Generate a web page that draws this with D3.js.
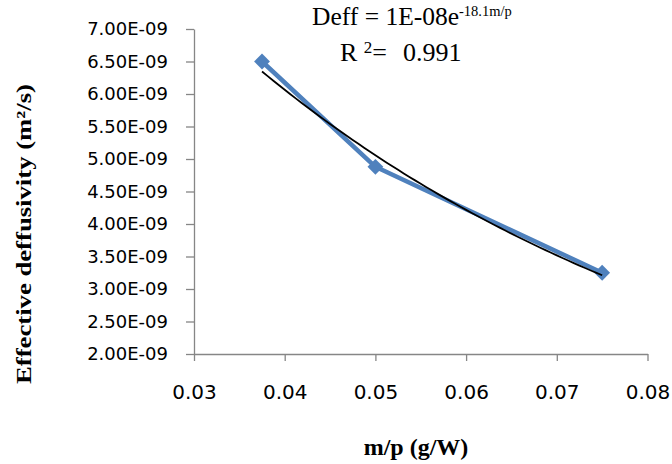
<!DOCTYPE html>
<html>
<head>
<meta charset="utf-8">
<script src="https://cdn.jsdelivr.net/npm/d3@7"></script>
<style>
  html, body { margin: 0; padding: 0; background: #ffffff; }
  svg { display: block; }
</style>
</head>
<body>
<svg id="chart" width="672" height="464"></svg>
<script>
// Microwave power ratio (m/p) vs. effective diffusivity
const massPower = [0.0375, 0.05, 0.075];
const deffValues = [6.50e-9, 4.88e-9, 3.25e-9];

const xTickValues = [0.03, 0.04, 0.05, 0.06, 0.07, 0.08];
const xTickLabels = ["0.03", "0.04", "0.05", "0.06", "0.07", "0.08"];
const yTickValues = [2.0e-9, 2.5e-9, 3.0e-9, 3.5e-9, 4.0e-9, 4.5e-9, 5.0e-9, 5.5e-9, 6.0e-9, 6.5e-9, 7.0e-9];
const yTickLabels = ["2.00E-09", "2.50E-09", "3.00E-09", "3.50E-09", "4.00E-09", "4.50E-09",
                     "5.00E-09", "5.50E-09", "6.00E-09", "6.50E-09", "7.00E-09"];

const svg = d3.select("#chart");

const x = d3.scaleLinear().domain([0.03, 0.08]).range([194, 647.5]);
const y = d3.scaleLinear().domain([2.0e-9, 7.0e-9]).range([354, 29]);

const axisColor = "#868686";
const tickFont = "'DejaVu Sans', Verdana, sans-serif";
const serif = "'Liberation Serif', 'Times New Roman', serif";

// Y axis
const yAxis = svg.append("g")
  .attr("transform", `translate(${x.range()[0]},0)`)
  .call(d3.axisLeft(y)
    .tickValues(yTickValues)
    .tickFormat((d, i) => yTickLabels[i])
    .tickSizeInner(8).tickSizeOuter(0).tickPadding(18));

// X axis
const xAxis = svg.append("g")
  .attr("transform", `translate(0,${y.range()[0]})`)
  .call(d3.axisBottom(x)
    .tickValues(xTickValues)
    .tickFormat((d, i) => xTickLabels[i])
    .tickSizeInner(7).tickSizeOuter(0).tickPadding(24));

[yAxis, xAxis].forEach(g => {
  g.select(".domain").attr("stroke", axisColor).attr("stroke-width", 1.3);
  g.selectAll(".tick line").attr("stroke", axisColor).attr("stroke-width", 1.3);
  g.selectAll(".tick text")
    .attr("fill", "#000")
    .style("font-family", tickFont);
});
yAxis.selectAll(".tick text").style("font-size", "18px");
xAxis.selectAll(".tick text").style("font-size", "20px");

// Data series
const line = d3.line().x((d, i) => x(massPower[i])).y(d => y(d));
svg.append("path")
  .datum(deffValues)
  .attr("fill", "none")
  .attr("stroke", "#4F81BD")
  .attr("stroke-width", 4.5)
  .attr("stroke-linejoin", "round")
  .attr("d", line);

svg.append("g").selectAll("path")
  .data(deffValues)
  .join("path")
  .attr("d", d3.symbol(d3.symbolSquare, 125))
  .attr("transform", (d, i) => `translate(${x(massPower[i])},${y(d)}) rotate(45)`)
  .attr("fill", "#4F81BD");

// Exponential trendline: least squares on ln(Deff)
const lnY = deffValues.map(v => Math.log(v));
const mx = d3.mean(massPower), my = d3.mean(lnY);
const b = d3.sum(massPower, (v, i) => (v - mx) * (lnY[i] - my)) /
          d3.sum(massPower, v => (v - mx) * (v - mx));
const a = Math.exp(my - b * mx);
const xs = d3.range(0, 61).map(k => massPower[0] + (massPower[2] - massPower[0]) * k / 60);
svg.append("path")
  .datum(xs)
  .attr("fill", "none")
  .attr("stroke", "#000")
  .attr("stroke-width", 1.8)
  .attr("d", d3.line().x(d => x(d)).y(d => y(a * Math.exp(b * d))));

// Trendline equation
const eq = svg.append("text")
  .attr("x", 312).attr("y", 25)
  .style("font-family", serif).style("font-size", "25.5px").attr("fill", "#000");
eq.append("tspan").text("Deff = 1E-08e");
eq.append("tspan").attr("dy", -9).style("font-size", "14.5px").text("-18.1m/p");

const r2 = svg.append("text")
  .attr("y", 61)
  .style("font-family", serif).style("font-size", "26px").attr("fill", "#000");
r2.append("tspan").attr("x", 340).text("R ");
r2.append("tspan").attr("dy", -8).style("font-size", "17px").text("2");
r2.append("tspan").attr("dy", 8).text("=");
r2.append("tspan").attr("x", 403).text("0.991");

// Axis titles
svg.append("text")
  .attr("x", 416).attr("y", 455)
  .attr("text-anchor", "middle")
  .style("font-family", serif).style("font-size", "24px").style("font-weight", "bold")
  .text("m/p (g/W)");

svg.append("text")
  .attr("transform", "translate(31,234) rotate(-90)")
  .attr("text-anchor", "middle")
  .attr("textLength", 300).attr("lengthAdjust", "spacingAndGlyphs")
  .style("font-family", serif).style("font-size", "22px").style("font-weight", "bold")
  .text("Effective deffusivity (m\u00B2/s)");
</script>
</body>
</html>
